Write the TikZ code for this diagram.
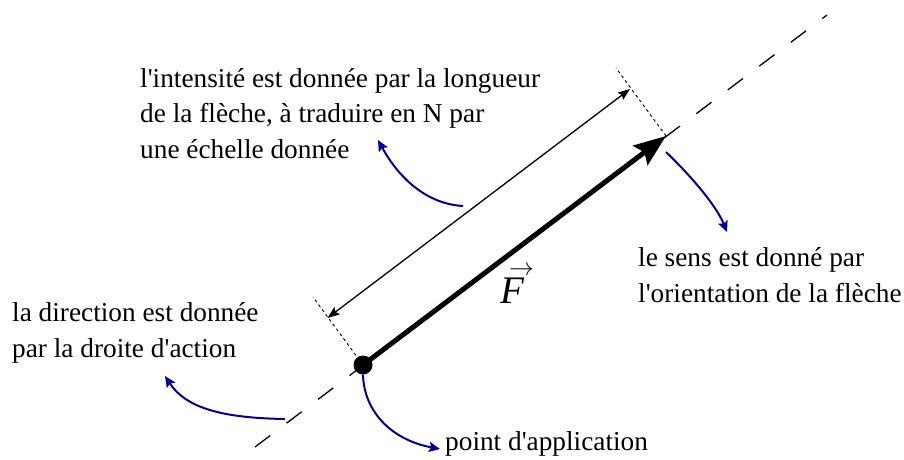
\documentclass[tikz,border=0pt]{standalone}
\usepackage{fontspec}
\setmainfont{Liberation Serif}
\usetikzlibrary{arrows.meta}
\definecolor{annblue}{RGB}{0,0,150}
\newcommand{\apos}{\textquotesingle}
\begin{document}
\begin{tikzpicture}[x=1pt,y=-1pt,
  txt/.style={inner sep=0pt, anchor=base west, align=left, font=\fontsize{27.3}{35.5}\selectfont},
  actionline/.style={line width=1.3pt, dash pattern=on 19pt off 20.5pt},
  perpline/.style={line width=0.9pt, dash pattern=on 3pt off 3pt},
  lenarrow/.style={line width=1.3pt, {Stealth[length=12pt,width=9pt,inset=2pt]}-{Stealth[length=12pt,width=9pt,inset=2pt]}},
  vecarrow/.style={line width=5pt, -{Stealth[length=32pt,width=24pt,inset=5pt]}},
  callout/.style={annblue, line width=2pt, -{Stealth[length=11pt,width=10pt,inset=2pt]}}
]
\useasboundingbox (0,0) rectangle (904,460);
% line of action
\coordinate (A) at (255,447);
\coordinate (B) at (827,15);
\draw[actionline] (A) -- (B);
% vector
\coordinate (T) at (666,136);
\node[circle, fill=black, inner sep=0pt, minimum size=19pt] (P) at (363,365) {};
\coordinate (P1) at (313,297);
\coordinate (T1) at (616,68);
\draw[perpline] (P.center) -- (P1);
\draw[perpline] (T) -- (T1);
\coordinate (D1) at (327.5,318);
\coordinate (D2) at (630,89);
\draw[lenarrow] (D1) -- (D2);
\draw[vecarrow] (P.center) -- (T);
\node[inner sep=0pt, anchor=base west] (F) at (500,303)
  {\rlap{\kern9pt\raisebox{28pt}{\fontsize{27}{27}\selectfont$\rightarrow$}}{\fontsize{39}{39}\selectfont\itshape F}};
% texts
\node[txt] (t1) at (140,158) {l\apos intensité est donnée par la longueur\\de la flèche, à traduire en N par\\une échelle donnée};
\node[txt] (t2) at (638,302) {le sens est donné par\\l\apos orientation de la flèche};
\node[txt] (t3) at (12,357) {la direction est donnée\\par la droite d\apos action};
\node[txt] (t4) at (445,450) {point d\apos application};
% callouts
\coordinate (c1s) at (463,206);
\coordinate (c1e) at (378,140);
\draw[callout] (c1s) .. controls (428,204) and (400,180) .. (c1e);
\coordinate (c2s) at (666,152);
\coordinate (c2e) at (727,232);
\draw[callout] (c2s) .. controls (690,175) and (716,205) .. (c2e);
\coordinate (c3s) at (285,419);
\coordinate (c3e) at (165,376);
\draw[callout] (c3s) .. controls (222,418) and (186,408) .. (c3e);
\coordinate (c4e) at (440,449);
\draw[callout] (P.south) .. controls (364,412) and (392,440) .. (c4e);
\end{tikzpicture}
\end{document}
